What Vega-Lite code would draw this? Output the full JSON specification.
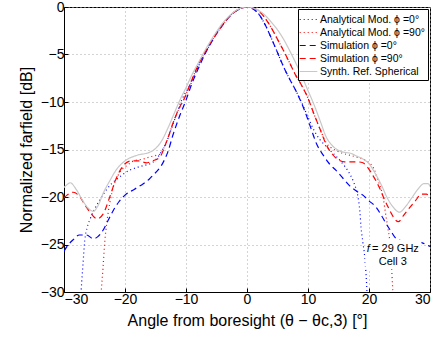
{
  "$schema": "https://vega.github.io/schema/vega-lite/v6.json",
  "autosize": {"type": "none"},
  "width": 366,
  "height": 285,
  "padding": {"left": 64, "top": 7, "right": 12, "bottom": 47},
  "background": "white",
  "config": {
    "font": "Liberation Sans",
    "view": {"stroke": "black", "strokeWidth": 1},
    "axis": {
      "domainColor": "black",
      "tickColor": "black",
      "tickSize": -4,
      "labelPadding": 4,
      "labelFontSize": 14,
      "labelColor": "black",
      "titleFontSize": 16,
      "titleFontWeight": "normal",
      "titleColor": "black",
      "gridColor": "#a8a8a8",
      "gridDash": [1, 3],
      "gridWidth": 1
    },
    "legend": {
      "orient": "top-right",
      "offset": 2,
      "symbolType": "M-1.35,0H1.35",
      "symbolSize": 170,
      "symbolStrokeWidth": 1.8,
      "labelFontSize": 10.5,
      "labelColor": "black",
      "rowPadding": 0,
      "padding": 3,
      "strokeColor": "black",
      "fillColor": "white",
      "labelOffset": 4
    }
  },
  "layer": [
    {
      "data": {
        "values": [
          {"s": "Analytical Mod. ϕ =0°", "x": -30, "y": -40},
          {"s": "Analytical Mod. ϕ =0°", "x": -28, "y": -36},
          {"s": "Analytical Mod. ϕ =0°", "x": -27.3, "y": -31},
          {"s": "Analytical Mod. ϕ =0°", "x": -27.1, "y": -29},
          {"s": "Analytical Mod. ϕ =0°", "x": -26.9, "y": -27.2},
          {"s": "Analytical Mod. ϕ =0°", "x": -26.6, "y": -24.6},
          {"s": "Analytical Mod. ϕ =0°", "x": -26.2, "y": -23.2},
          {"s": "Analytical Mod. ϕ =0°", "x": -25.7, "y": -22.3},
          {"s": "Analytical Mod. ϕ =0°", "x": -25, "y": -21.3},
          {"s": "Analytical Mod. ϕ =0°", "x": -24.1, "y": -20.3},
          {"s": "Analytical Mod. ϕ =0°", "x": -23, "y": -19.2},
          {"s": "Analytical Mod. ϕ =0°", "x": -22.2, "y": -18.6},
          {"s": "Analytical Mod. ϕ =0°", "x": -21.3, "y": -18.1},
          {"s": "Analytical Mod. ϕ =0°", "x": -20.5, "y": -17.7},
          {"s": "Analytical Mod. ϕ =0°", "x": -19.3, "y": -17.2},
          {"s": "Analytical Mod. ϕ =0°", "x": -18.1, "y": -16.9},
          {"s": "Analytical Mod. ϕ =0°", "x": -17, "y": -16.7},
          {"s": "Analytical Mod. ϕ =0°", "x": -15.9, "y": -16.5},
          {"s": "Analytical Mod. ϕ =0°", "x": -15, "y": -16.1},
          {"s": "Analytical Mod. ϕ =0°", "x": -14, "y": -15.2},
          {"s": "Analytical Mod. ϕ =0°", "x": -13, "y": -13.9},
          {"s": "Analytical Mod. ϕ =0°", "x": -12, "y": -12.1},
          {"s": "Analytical Mod. ϕ =0°", "x": -10.7, "y": -9.8},
          {"s": "Analytical Mod. ϕ =0°", "x": -9, "y": -7.8},
          {"s": "Analytical Mod. ϕ =0°", "x": -8, "y": -6.3},
          {"s": "Analytical Mod. ϕ =0°", "x": -7, "y": -5.0},
          {"s": "Analytical Mod. ϕ =0°", "x": -6, "y": -3.9},
          {"s": "Analytical Mod. ϕ =0°", "x": -5, "y": -2.8},
          {"s": "Analytical Mod. ϕ =0°", "x": -4, "y": -1.9},
          {"s": "Analytical Mod. ϕ =0°", "x": -3, "y": -1.1},
          {"s": "Analytical Mod. ϕ =0°", "x": -2, "y": -0.5},
          {"s": "Analytical Mod. ϕ =0°", "x": -1, "y": -0.15},
          {"s": "Analytical Mod. ϕ =0°", "x": 0, "y": 0},
          {"s": "Analytical Mod. ϕ =0°", "x": 1, "y": -0.2},
          {"s": "Analytical Mod. ϕ =0°", "x": 2, "y": -0.8},
          {"s": "Analytical Mod. ϕ =0°", "x": 3, "y": -1.9},
          {"s": "Analytical Mod. ϕ =0°", "x": 4, "y": -3.3},
          {"s": "Analytical Mod. ϕ =0°", "x": 5, "y": -4.8},
          {"s": "Analytical Mod. ϕ =0°", "x": 6, "y": -6.3},
          {"s": "Analytical Mod. ϕ =0°", "x": 7, "y": -7.6},
          {"s": "Analytical Mod. ϕ =0°", "x": 8, "y": -8.8},
          {"s": "Analytical Mod. ϕ =0°", "x": 9, "y": -10.1},
          {"s": "Analytical Mod. ϕ =0°", "x": 10, "y": -11.6},
          {"s": "Analytical Mod. ϕ =0°", "x": 11, "y": -13.0},
          {"s": "Analytical Mod. ϕ =0°", "x": 12, "y": -14.0},
          {"s": "Analytical Mod. ϕ =0°", "x": 13, "y": -14.7},
          {"s": "Analytical Mod. ϕ =0°", "x": 13.6, "y": -15.1},
          {"s": "Analytical Mod. ϕ =0°", "x": 14.6, "y": -15.7},
          {"s": "Analytical Mod. ϕ =0°", "x": 15.7, "y": -16.5},
          {"s": "Analytical Mod. ϕ =0°", "x": 16.6, "y": -17.3},
          {"s": "Analytical Mod. ϕ =0°", "x": 17.4, "y": -18.3},
          {"s": "Analytical Mod. ϕ =0°", "x": 17.9, "y": -19.2},
          {"s": "Analytical Mod. ϕ =0°", "x": 18.2, "y": -20.0},
          {"s": "Analytical Mod. ϕ =0°", "x": 18.5, "y": -21.5},
          {"s": "Analytical Mod. ϕ =0°", "x": 18.7, "y": -23.2},
          {"s": "Analytical Mod. ϕ =0°", "x": 19.0, "y": -24.8},
          {"s": "Analytical Mod. ϕ =0°", "x": 19.3, "y": -26.3},
          {"s": "Analytical Mod. ϕ =0°", "x": 19.5, "y": -28},
          {"s": "Analytical Mod. ϕ =0°", "x": 19.65, "y": -29.8},
          {"s": "Analytical Mod. ϕ =0°", "x": 19.8, "y": -33},
          {"s": "Analytical Mod. ϕ =0°", "x": 21, "y": -40},
          {"s": "Analytical Mod. ϕ =0°", "x": 25, "y": -35},
          {"s": "Analytical Mod. ϕ =0°", "x": 30, "y": -40},

          {"s": "Analytical Mod. ϕ =90°", "x": -30, "y": -40},
          {"s": "Analytical Mod. ϕ =90°", "x": -25, "y": -35},
          {"s": "Analytical Mod. ϕ =90°", "x": -24.1, "y": -32},
          {"s": "Analytical Mod. ϕ =90°", "x": -23.9, "y": -30},
          {"s": "Analytical Mod. ϕ =90°", "x": -23.6, "y": -27.4},
          {"s": "Analytical Mod. ϕ =90°", "x": -23.3, "y": -24.6},
          {"s": "Analytical Mod. ϕ =90°", "x": -23, "y": -22.8},
          {"s": "Analytical Mod. ϕ =90°", "x": -22.7, "y": -21.4},
          {"s": "Analytical Mod. ϕ =90°", "x": -22.3, "y": -20},
          {"s": "Analytical Mod. ϕ =90°", "x": -21.9, "y": -18.9},
          {"s": "Analytical Mod. ϕ =90°", "x": -21.2, "y": -17.8},
          {"s": "Analytical Mod. ϕ =90°", "x": -20.5, "y": -17.1},
          {"s": "Analytical Mod. ϕ =90°", "x": -19.5, "y": -16.6},
          {"s": "Analytical Mod. ϕ =90°", "x": -18.6, "y": -16.2},
          {"s": "Analytical Mod. ϕ =90°", "x": -17, "y": -16.0},
          {"s": "Analytical Mod. ϕ =90°", "x": -15.5, "y": -15.7},
          {"s": "Analytical Mod. ϕ =90°", "x": -14.3, "y": -15.5},
          {"s": "Analytical Mod. ϕ =90°", "x": -13.2, "y": -14.2},
          {"s": "Analytical Mod. ϕ =90°", "x": -12, "y": -12.0},
          {"s": "Analytical Mod. ϕ =90°", "x": -11, "y": -10.5},
          {"s": "Analytical Mod. ϕ =90°", "x": -10.4, "y": -9.8},
          {"s": "Analytical Mod. ϕ =90°", "x": -9, "y": -7.6},
          {"s": "Analytical Mod. ϕ =90°", "x": -8, "y": -6.1},
          {"s": "Analytical Mod. ϕ =90°", "x": -7, "y": -4.9},
          {"s": "Analytical Mod. ϕ =90°", "x": -6, "y": -3.8},
          {"s": "Analytical Mod. ϕ =90°", "x": -5, "y": -2.8},
          {"s": "Analytical Mod. ϕ =90°", "x": -4, "y": -1.9},
          {"s": "Analytical Mod. ϕ =90°", "x": -3, "y": -1.1},
          {"s": "Analytical Mod. ϕ =90°", "x": -2, "y": -0.5},
          {"s": "Analytical Mod. ϕ =90°", "x": -1, "y": -0.15},
          {"s": "Analytical Mod. ϕ =90°", "x": 0, "y": 0},
          {"s": "Analytical Mod. ϕ =90°", "x": 1, "y": -0.1},
          {"s": "Analytical Mod. ϕ =90°", "x": 2, "y": -0.45},
          {"s": "Analytical Mod. ϕ =90°", "x": 3, "y": -1.2},
          {"s": "Analytical Mod. ϕ =90°", "x": 4, "y": -2.2},
          {"s": "Analytical Mod. ϕ =90°", "x": 5, "y": -3.4},
          {"s": "Analytical Mod. ϕ =90°", "x": 6, "y": -4.6},
          {"s": "Analytical Mod. ϕ =90°", "x": 7, "y": -5.9},
          {"s": "Analytical Mod. ϕ =90°", "x": 8, "y": -7.2},
          {"s": "Analytical Mod. ϕ =90°", "x": 9, "y": -8.3},
          {"s": "Analytical Mod. ϕ =90°", "x": 10, "y": -9.6},
          {"s": "Analytical Mod. ϕ =90°", "x": 11, "y": -11.3},
          {"s": "Analytical Mod. ϕ =90°", "x": 12, "y": -12.9},
          {"s": "Analytical Mod. ϕ =90°", "x": 13, "y": -14.3},
          {"s": "Analytical Mod. ϕ =90°", "x": 14, "y": -14.9},
          {"s": "Analytical Mod. ϕ =90°", "x": 14.6, "y": -15.1},
          {"s": "Analytical Mod. ϕ =90°", "x": 15.7, "y": -15.4},
          {"s": "Analytical Mod. ϕ =90°", "x": 16.8, "y": -15.6},
          {"s": "Analytical Mod. ϕ =90°", "x": 18, "y": -15.8},
          {"s": "Analytical Mod. ϕ =90°", "x": 19, "y": -16.0},
          {"s": "Analytical Mod. ϕ =90°", "x": 20, "y": -16.4},
          {"s": "Analytical Mod. ϕ =90°", "x": 20.7, "y": -16.9},
          {"s": "Analytical Mod. ϕ =90°", "x": 21.5, "y": -18.3},
          {"s": "Analytical Mod. ϕ =90°", "x": 22.3, "y": -20},
          {"s": "Analytical Mod. ϕ =90°", "x": 22.8, "y": -22.1},
          {"s": "Analytical Mod. ϕ =90°", "x": 23.1, "y": -23.3},
          {"s": "Analytical Mod. ϕ =90°", "x": 23.4, "y": -24.6},
          {"s": "Analytical Mod. ϕ =90°", "x": 23.7, "y": -27.4},
          {"s": "Analytical Mod. ϕ =90°", "x": 23.9, "y": -29.8},
          {"s": "Analytical Mod. ϕ =90°", "x": 24.1, "y": -32},
          {"s": "Analytical Mod. ϕ =90°", "x": 25, "y": -36},
          {"s": "Analytical Mod. ϕ =90°", "x": 30, "y": -40},

          {"s": "Simulation ϕ =0°", "x": -30, "y": -25.7},
          {"s": "Simulation ϕ =0°", "x": -29.5, "y": -25.2},
          {"s": "Simulation ϕ =0°", "x": -28.5, "y": -24.5},
          {"s": "Simulation ϕ =0°", "x": -27.5, "y": -24.0},
          {"s": "Simulation ϕ =0°", "x": -26.3, "y": -24.0},
          {"s": "Simulation ϕ =0°", "x": -25.2, "y": -24.4},
          {"s": "Simulation ϕ =0°", "x": -24.5, "y": -24.2},
          {"s": "Simulation ϕ =0°", "x": -23.6, "y": -23.5},
          {"s": "Simulation ϕ =0°", "x": -22.8, "y": -22.5},
          {"s": "Simulation ϕ =0°", "x": -21.9, "y": -21.4},
          {"s": "Simulation ϕ =0°", "x": -21, "y": -20.5},
          {"s": "Simulation ϕ =0°", "x": -20, "y": -19.8},
          {"s": "Simulation ϕ =0°", "x": -18.5, "y": -19.2},
          {"s": "Simulation ϕ =0°", "x": -17, "y": -18.6},
          {"s": "Simulation ϕ =0°", "x": -16, "y": -18.1},
          {"s": "Simulation ϕ =0°", "x": -15.4, "y": -17.7},
          {"s": "Simulation ϕ =0°", "x": -14.5, "y": -17.1},
          {"s": "Simulation ϕ =0°", "x": -13.7, "y": -16.3},
          {"s": "Simulation ϕ =0°", "x": -13, "y": -15.3},
          {"s": "Simulation ϕ =0°", "x": -12.1, "y": -13.4},
          {"s": "Simulation ϕ =0°", "x": -11, "y": -11.4},
          {"s": "Simulation ϕ =0°", "x": -10, "y": -9.8},
          {"s": "Simulation ϕ =0°", "x": -9, "y": -8.0},
          {"s": "Simulation ϕ =0°", "x": -8, "y": -6.5},
          {"s": "Simulation ϕ =0°", "x": -7, "y": -5.1},
          {"s": "Simulation ϕ =0°", "x": -6, "y": -3.9},
          {"s": "Simulation ϕ =0°", "x": -5, "y": -2.8},
          {"s": "Simulation ϕ =0°", "x": -4, "y": -1.9},
          {"s": "Simulation ϕ =0°", "x": -3, "y": -1.1},
          {"s": "Simulation ϕ =0°", "x": -2, "y": -0.5},
          {"s": "Simulation ϕ =0°", "x": -1, "y": -0.15},
          {"s": "Simulation ϕ =0°", "x": 0, "y": 0},
          {"s": "Simulation ϕ =0°", "x": 1, "y": -0.2},
          {"s": "Simulation ϕ =0°", "x": 2, "y": -0.8},
          {"s": "Simulation ϕ =0°", "x": 3, "y": -1.9},
          {"s": "Simulation ϕ =0°", "x": 4, "y": -3.3},
          {"s": "Simulation ϕ =0°", "x": 5, "y": -4.8},
          {"s": "Simulation ϕ =0°", "x": 6, "y": -6.3},
          {"s": "Simulation ϕ =0°", "x": 7, "y": -7.6},
          {"s": "Simulation ϕ =0°", "x": 8, "y": -8.8},
          {"s": "Simulation ϕ =0°", "x": 8.8, "y": -9.9},
          {"s": "Simulation ϕ =0°", "x": 9.5, "y": -11.0},
          {"s": "Simulation ϕ =0°", "x": 10.5, "y": -12.8},
          {"s": "Simulation ϕ =0°", "x": 11.4, "y": -14.4},
          {"s": "Simulation ϕ =0°", "x": 12.5, "y": -15.6},
          {"s": "Simulation ϕ =0°", "x": 13.5, "y": -16.5},
          {"s": "Simulation ϕ =0°", "x": 14.6, "y": -17.2},
          {"s": "Simulation ϕ =0°", "x": 15.7, "y": -18.0},
          {"s": "Simulation ϕ =0°", "x": 16.8, "y": -18.8},
          {"s": "Simulation ϕ =0°", "x": 18, "y": -19.4},
          {"s": "Simulation ϕ =0°", "x": 19, "y": -19.8},
          {"s": "Simulation ϕ =0°", "x": 20, "y": -20.4},
          {"s": "Simulation ϕ =0°", "x": 21.2, "y": -21.1},
          {"s": "Simulation ϕ =0°", "x": 22, "y": -21.9},
          {"s": "Simulation ϕ =0°", "x": 22.8, "y": -22.8},
          {"s": "Simulation ϕ =0°", "x": 23.6, "y": -23.6},
          {"s": "Simulation ϕ =0°", "x": 24.5, "y": -24.4},
          {"s": "Simulation ϕ =0°", "x": 25.5, "y": -24.6},
          {"s": "Simulation ϕ =0°", "x": 27.2, "y": -24.6},
          {"s": "Simulation ϕ =0°", "x": 28.6, "y": -24.8},
          {"s": "Simulation ϕ =0°", "x": 29.7, "y": -25.1},
          {"s": "Simulation ϕ =0°", "x": 30, "y": -25.2},

          {"s": "Simulation ϕ =90°", "x": -30, "y": -20.1},
          {"s": "Simulation ϕ =90°", "x": -29.5, "y": -19.8},
          {"s": "Simulation ϕ =90°", "x": -28.5, "y": -19.5},
          {"s": "Simulation ϕ =90°", "x": -27.5, "y": -19.9},
          {"s": "Simulation ϕ =90°", "x": -26.5, "y": -20.9},
          {"s": "Simulation ϕ =90°", "x": -25.5, "y": -21.8},
          {"s": "Simulation ϕ =90°", "x": -24.6, "y": -22.3},
          {"s": "Simulation ϕ =90°", "x": -23.6, "y": -21.8},
          {"s": "Simulation ϕ =90°", "x": -22.5, "y": -20.0},
          {"s": "Simulation ϕ =90°", "x": -21.6, "y": -18.3},
          {"s": "Simulation ϕ =90°", "x": -20.8, "y": -17.2},
          {"s": "Simulation ϕ =90°", "x": -20, "y": -16.5},
          {"s": "Simulation ϕ =90°", "x": -19, "y": -16.2},
          {"s": "Simulation ϕ =90°", "x": -17.8, "y": -16.2},
          {"s": "Simulation ϕ =90°", "x": -16.5, "y": -16.4},
          {"s": "Simulation ϕ =90°", "x": -15.5, "y": -16.2},
          {"s": "Simulation ϕ =90°", "x": -14.3, "y": -15.8},
          {"s": "Simulation ϕ =90°", "x": -13.2, "y": -14.2},
          {"s": "Simulation ϕ =90°", "x": -12, "y": -12.0},
          {"s": "Simulation ϕ =90°", "x": -11, "y": -10.5},
          {"s": "Simulation ϕ =90°", "x": -10.4, "y": -9.8},
          {"s": "Simulation ϕ =90°", "x": -9, "y": -7.6},
          {"s": "Simulation ϕ =90°", "x": -8, "y": -6.1},
          {"s": "Simulation ϕ =90°", "x": -7, "y": -4.9},
          {"s": "Simulation ϕ =90°", "x": -6, "y": -3.8},
          {"s": "Simulation ϕ =90°", "x": -5, "y": -2.8},
          {"s": "Simulation ϕ =90°", "x": -4, "y": -1.9},
          {"s": "Simulation ϕ =90°", "x": -3, "y": -1.1},
          {"s": "Simulation ϕ =90°", "x": -2, "y": -0.5},
          {"s": "Simulation ϕ =90°", "x": -1, "y": -0.15},
          {"s": "Simulation ϕ =90°", "x": 0, "y": 0},
          {"s": "Simulation ϕ =90°", "x": 1, "y": -0.1},
          {"s": "Simulation ϕ =90°", "x": 2, "y": -0.45},
          {"s": "Simulation ϕ =90°", "x": 3, "y": -1.2},
          {"s": "Simulation ϕ =90°", "x": 4, "y": -2.2},
          {"s": "Simulation ϕ =90°", "x": 5, "y": -3.4},
          {"s": "Simulation ϕ =90°", "x": 6, "y": -4.6},
          {"s": "Simulation ϕ =90°", "x": 7, "y": -5.9},
          {"s": "Simulation ϕ =90°", "x": 8, "y": -7.2},
          {"s": "Simulation ϕ =90°", "x": 9, "y": -8.3},
          {"s": "Simulation ϕ =90°", "x": 10, "y": -9.6},
          {"s": "Simulation ϕ =90°", "x": 11, "y": -11.3},
          {"s": "Simulation ϕ =90°", "x": 12, "y": -12.9},
          {"s": "Simulation ϕ =90°", "x": 13, "y": -14.5},
          {"s": "Simulation ϕ =90°", "x": 14, "y": -15.5},
          {"s": "Simulation ϕ =90°", "x": 15, "y": -16.1},
          {"s": "Simulation ϕ =90°", "x": 16, "y": -16.3},
          {"s": "Simulation ϕ =90°", "x": 17, "y": -16.3},
          {"s": "Simulation ϕ =90°", "x": 18, "y": -16.3},
          {"s": "Simulation ϕ =90°", "x": 19, "y": -16.4},
          {"s": "Simulation ϕ =90°", "x": 19.8, "y": -16.9},
          {"s": "Simulation ϕ =90°", "x": 20.7, "y": -17.8},
          {"s": "Simulation ϕ =90°", "x": 21.7, "y": -19.0},
          {"s": "Simulation ϕ =90°", "x": 22.5, "y": -20.2},
          {"s": "Simulation ϕ =90°", "x": 23.4, "y": -21.4},
          {"s": "Simulation ϕ =90°", "x": 24.1, "y": -22.2},
          {"s": "Simulation ϕ =90°", "x": 24.8, "y": -22.6},
          {"s": "Simulation ϕ =90°", "x": 25.7, "y": -21.9},
          {"s": "Simulation ϕ =90°", "x": 26.7, "y": -21.1},
          {"s": "Simulation ϕ =90°", "x": 27.6, "y": -20.4},
          {"s": "Simulation ϕ =90°", "x": 28.6, "y": -19.7},
          {"s": "Simulation ϕ =90°", "x": 29.4, "y": -19.7},
          {"s": "Simulation ϕ =90°", "x": 30, "y": -20.0},

          {"s": "Synth. Ref. Spherical", "x": -30, "y": -19.0},
          {"s": "Synth. Ref. Spherical", "x": -29.5, "y": -18.7},
          {"s": "Synth. Ref. Spherical", "x": -29, "y": -18.5},
          {"s": "Synth. Ref. Spherical", "x": -28, "y": -19.2},
          {"s": "Synth. Ref. Spherical", "x": -27, "y": -20.3},
          {"s": "Synth. Ref. Spherical", "x": -26, "y": -21.2},
          {"s": "Synth. Ref. Spherical", "x": -25.2, "y": -21.5},
          {"s": "Synth. Ref. Spherical", "x": -24.5, "y": -21.0},
          {"s": "Synth. Ref. Spherical", "x": -23.5, "y": -19.5},
          {"s": "Synth. Ref. Spherical", "x": -22.5, "y": -18.3},
          {"s": "Synth. Ref. Spherical", "x": -21.5, "y": -17.2},
          {"s": "Synth. Ref. Spherical", "x": -20, "y": -16.2},
          {"s": "Synth. Ref. Spherical", "x": -18, "y": -15.6},
          {"s": "Synth. Ref. Spherical", "x": -16, "y": -15.3},
          {"s": "Synth. Ref. Spherical", "x": -15, "y": -14.9},
          {"s": "Synth. Ref. Spherical", "x": -14, "y": -14.1},
          {"s": "Synth. Ref. Spherical", "x": -13, "y": -12.8},
          {"s": "Synth. Ref. Spherical", "x": -12, "y": -11.3},
          {"s": "Synth. Ref. Spherical", "x": -11, "y": -9.8},
          {"s": "Synth. Ref. Spherical", "x": -10, "y": -8.5},
          {"s": "Synth. Ref. Spherical", "x": -9, "y": -7.1},
          {"s": "Synth. Ref. Spherical", "x": -8, "y": -5.9},
          {"s": "Synth. Ref. Spherical", "x": -7, "y": -4.7},
          {"s": "Synth. Ref. Spherical", "x": -6, "y": -3.6},
          {"s": "Synth. Ref. Spherical", "x": -5, "y": -2.6},
          {"s": "Synth. Ref. Spherical", "x": -4, "y": -1.7},
          {"s": "Synth. Ref. Spherical", "x": -3, "y": -1.0},
          {"s": "Synth. Ref. Spherical", "x": -2, "y": -0.45},
          {"s": "Synth. Ref. Spherical", "x": -1, "y": -0.1},
          {"s": "Synth. Ref. Spherical", "x": 0, "y": 0},
          {"s": "Synth. Ref. Spherical", "x": 1, "y": -0.1},
          {"s": "Synth. Ref. Spherical", "x": 2, "y": -0.4},
          {"s": "Synth. Ref. Spherical", "x": 3, "y": -0.9},
          {"s": "Synth. Ref. Spherical", "x": 4, "y": -1.6},
          {"s": "Synth. Ref. Spherical", "x": 5, "y": -2.4},
          {"s": "Synth. Ref. Spherical", "x": 6, "y": -3.4},
          {"s": "Synth. Ref. Spherical", "x": 7, "y": -4.6},
          {"s": "Synth. Ref. Spherical", "x": 8, "y": -5.9},
          {"s": "Synth. Ref. Spherical", "x": 9, "y": -7.3},
          {"s": "Synth. Ref. Spherical", "x": 10, "y": -8.8},
          {"s": "Synth. Ref. Spherical", "x": 11, "y": -10.3},
          {"s": "Synth. Ref. Spherical", "x": 12, "y": -12.0},
          {"s": "Synth. Ref. Spherical", "x": 13, "y": -13.7},
          {"s": "Synth. Ref. Spherical", "x": 14, "y": -14.6},
          {"s": "Synth. Ref. Spherical", "x": 15, "y": -15.1},
          {"s": "Synth. Ref. Spherical", "x": 16, "y": -15.3},
          {"s": "Synth. Ref. Spherical", "x": 17, "y": -15.4},
          {"s": "Synth. Ref. Spherical", "x": 18, "y": -15.7},
          {"s": "Synth. Ref. Spherical", "x": 19, "y": -16.0},
          {"s": "Synth. Ref. Spherical", "x": 20, "y": -16.5},
          {"s": "Synth. Ref. Spherical", "x": 21, "y": -17.5},
          {"s": "Synth. Ref. Spherical", "x": 22, "y": -18.7},
          {"s": "Synth. Ref. Spherical", "x": 23, "y": -20.1},
          {"s": "Synth. Ref. Spherical", "x": 24, "y": -21.1},
          {"s": "Synth. Ref. Spherical", "x": 25, "y": -21.6},
          {"s": "Synth. Ref. Spherical", "x": 26, "y": -21.0},
          {"s": "Synth. Ref. Spherical", "x": 27, "y": -20.1},
          {"s": "Synth. Ref. Spherical", "x": 28, "y": -19.2},
          {"s": "Synth. Ref. Spherical", "x": 29, "y": -18.6},
          {"s": "Synth. Ref. Spherical", "x": 29.7, "y": -18.6},
          {"s": "Synth. Ref. Spherical", "x": 30, "y": -18.9}
        ]
      },
      "mark": {"type": "line", "clip": true, "interpolate": "monotone"},
      "encoding": {
        "x": {
          "field": "x", "type": "quantitative",
          "scale": {"domain": [-30, 30], "nice": false},
          "axis": {"values": [-30, -20, -10, 0, 10, 20, 30], "title": "Angle from boresight (θ − θc,3) [°]", "titlePadding": 6}
        },
        "y": {
          "field": "y", "type": "quantitative",
          "scale": {"domain": [-30, 0], "nice": false},
          "axis": {"values": [-30, -25, -20, -15, -10, -5, 0], "title": "Normalized farfield [dB]", "titlePadding": 6}
        },
        "color": {
          "field": "s", "type": "nominal", "title": null,
          "sort": ["Analytical Mod. ϕ =0°", "Analytical Mod. ϕ =90°", "Simulation ϕ =0°", "Simulation ϕ =90°", "Synth. Ref. Spherical"],
          "scale": {
            "domain": ["Analytical Mod. ϕ =0°", "Analytical Mod. ϕ =90°", "Simulation ϕ =0°", "Simulation ϕ =90°", "Synth. Ref. Spherical"],
            "range": ["#0000ff", "#ff0000", "#0000ff", "#ff0000", "#c8c8c8"]
          }
        },
        "strokeDash": {
          "field": "s", "type": "nominal", "title": null,
          "sort": ["Analytical Mod. ϕ =0°", "Analytical Mod. ϕ =90°", "Simulation ϕ =0°", "Simulation ϕ =90°", "Synth. Ref. Spherical"],
          "scale": {
            "domain": ["Analytical Mod. ϕ =0°", "Analytical Mod. ϕ =90°", "Simulation ϕ =0°", "Simulation ϕ =90°", "Synth. Ref. Spherical"],
            "range": [[1, 3], [1, 3], [6, 4], [6, 4], [1, 0]]
          }
        },
        "strokeWidth": {
          "field": "s", "type": "nominal", "title": null,
          "sort": ["Analytical Mod. ϕ =0°", "Analytical Mod. ϕ =90°", "Simulation ϕ =0°", "Simulation ϕ =90°", "Synth. Ref. Spherical"],
          "scale": {
            "domain": ["Analytical Mod. ϕ =0°", "Analytical Mod. ϕ =90°", "Simulation ϕ =0°", "Simulation ϕ =90°", "Synth. Ref. Spherical"],
            "range": [1.2, 1.2, 1.8, 1.8, 1.6]
          }
        }
      }
    },
    {
      "data": {"values": [{}]},
      "mark": {"type": "rect", "fill": "white", "opacity": 1},
      "encoding": {"x": {"datum": 19.4}, "x2": {"datum": 28.6}, "y": {"datum": -24.5}, "y2": {"datum": -27.6}}
    },
    {
      "data": {"values": [{}]},
      "mark": {"type": "text", "fontSize": 11, "fontStyle": "italic", "align": "center", "baseline": "middle", "color": "black"},
      "encoding": {"x": {"datum": 19.9}, "y": {"datum": -25.5}, "text": {"value": "f"}}
    },
    {
      "data": {"values": [{}]},
      "mark": {"type": "text", "fontSize": 11, "align": "left", "baseline": "middle", "color": "black"},
      "encoding": {"x": {"datum": 20.5}, "y": {"datum": -25.5}, "text": {"value": "= 29 GHz"}}
    },
    {
      "data": {"values": [{}]},
      "mark": {"type": "text", "fontSize": 11, "align": "center", "baseline": "middle", "color": "black"},
      "encoding": {"x": {"datum": 23.9}, "y": {"datum": -26.85}, "text": {"value": "Cell 3"}}
    }
  ]
}
